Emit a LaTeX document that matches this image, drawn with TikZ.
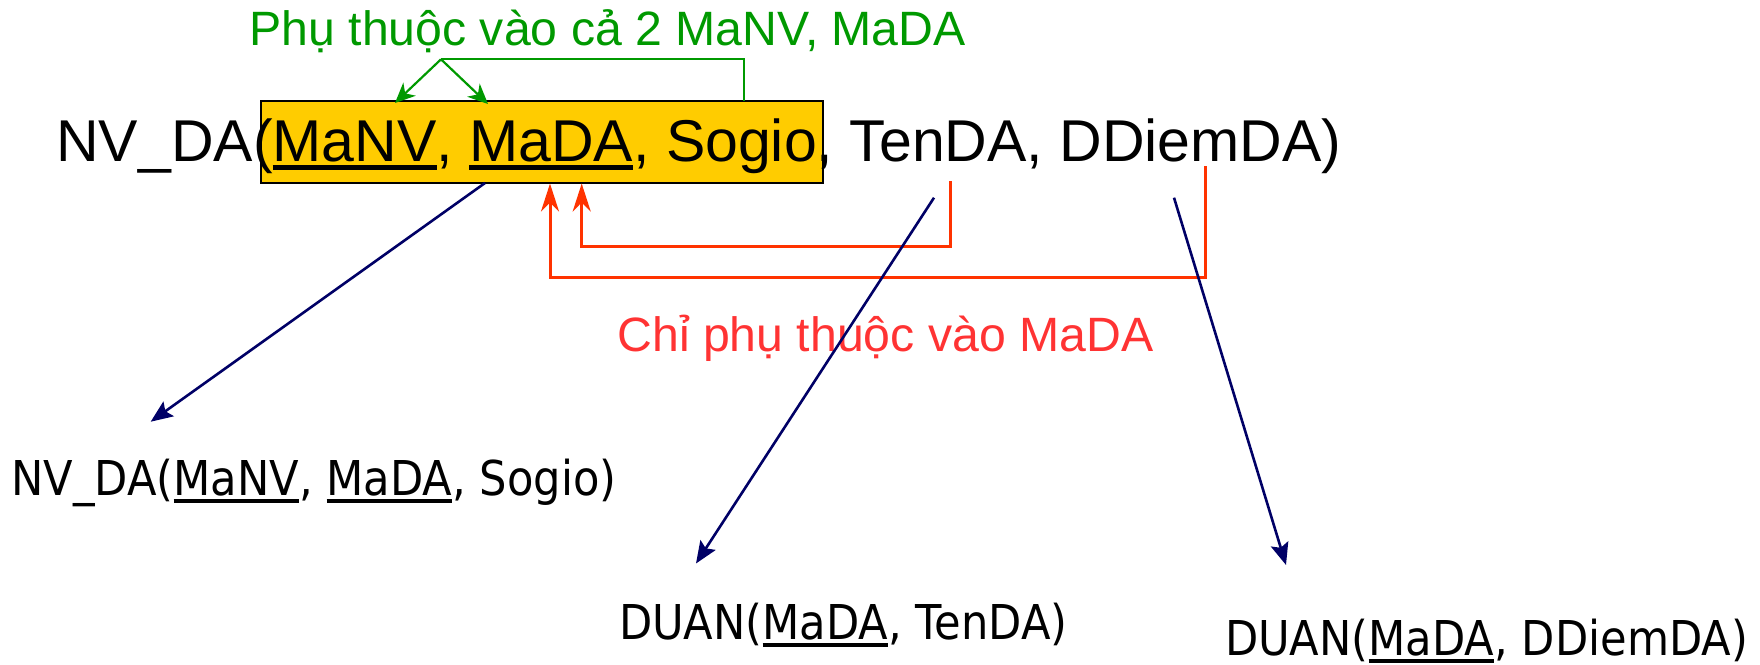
\documentclass[tikz,border=0pt]{standalone}
\usepackage{fontspec}
\setmainfont{Liberation Sans}
\newfontfamily\narrowsans[FakeStretch=0.9]{DejaVu Sans}
\usetikzlibrary{arrows.meta}

\definecolor{keyyellow}{HTML}{FFCC00}
\definecolor{depgreen}{HTML}{009900}
\definecolor{deptext}{HTML}{FF3333}
\definecolor{depred}{HTML}{FF3300}
\definecolor{splitnavy}{HTML}{000066}

% underlined key attribute: #1 = depth of the rule top below baseline, #2 = thickness
\newcommand\keyattr[3]{\setbox0\hbox{#3}\rlap{\rule[-#1]{\wd0}{#2}}\box0}

\tikzset{
  txt/.style={anchor=base west, inner sep=0pt, outer sep=0pt},
  relbig/.style={txt, font=\fontsize{29.5pt}{34pt}\selectfont},
  relsmall/.style={txt, font=\narrowsans\fontsize{24pt}{29pt}\selectfont},
  note/.style={txt, font=\fontsize{24.1pt}{28pt}\selectfont},
  keybox/.style={draw=black, line width=1pt, fill=keyyellow, inner sep=0pt,
                 minimum width=281pt, minimum height=40.85pt},
  gline/.style={draw=depgreen, line width=1.1pt},
  garrow/.style={gline, -{Stealth[length=10pt, width=9pt, inset=3pt]}},
  rline/.style={draw=depred, line width=1.5pt},
  rarrow/.style={rline, -{Stealth[length=14pt, width=9pt, inset=4.5pt]}},
  narrow/.style={draw=splitnavy, line width=1.3pt, -{Stealth[length=11pt, width=9pt, inset=2pt]}}
}

\begin{document}
\begin{tikzpicture}[x=0.5pt, y=-0.5pt]
  \useasboundingbox (0,0) rectangle (1760,664);

  % highlighted key part of the relation
  \node[keybox] (key) at (541.7,141.85) {};

  % relation and decomposed relations
  \node[relbig] (nvda) at (56.3,161)
    {NV\_DA(\keyattr{4.5pt}{2.4pt}{MaNV}, \keyattr{4.5pt}{2.4pt}{MaDA}, Sogio, TenDA, DDiemDA)};
  \node[relsmall] (nvdaR) at (11.2,495)
    {NV\_DA(\keyattr{4pt}{2pt}{MaNV}, \keyattr{4pt}{2pt}{MaDA}, Sogio)};
  \node[relsmall] (duanT) at (619,639)
    {DUAN(\keyattr{4pt}{2pt}{MaDA}, TenDA)};
  \node[relsmall] (duanD) at (1225,655)
    {DUAN(\keyattr{4pt}{2pt}{MaDA}, DDiemDA)};

  % dependency notes
  \node[note, text=depgreen] (full) at (249.5,45) {Phụ thuộc vào cả 2 MaNV, MaDA};
  \node[note, text=deptext] (partial) at (617.5,351) {Chỉ phụ thuộc vào MaDA};

  % full dependency: Sogio -> MaNV, MaDA
  \coordinate (gSogio) at (744.2,101);
  \coordinate (gFork) at (441,59.3);
  \coordinate (gManv) at (395,103);
  \coordinate (gMada) at (488,104);
  \draw[gline] (gSogio) |- (gFork);
  \draw[garrow] (gFork) -- (gManv);
  \draw[garrow] (gFork) -- (gMada);

  % partial dependencies: TenDA, DDiemDA -> MaDA
  \coordinate (rTen) at (950.7,181);
  \coordinate (rTenLow) at (950.7,246);
  \coordinate (rTenTip) at (581.7,183.5);
  \coordinate (rDiem) at (1205.7,166);
  \coordinate (rDiemLow) at (1205.7,277.7);
  \coordinate (rDiemTip) at (550,183.5);
  \draw[rarrow] (rTen) -- (rTenLow) -| (rTenTip);
  \draw[rarrow] (rDiem) -- (rDiemLow) -| (rDiemTip);

  % decomposition arrows
  \coordinate (nA) at (485,183);
  \coordinate (nAend) at (150.7,421.7);
  \coordinate (nB) at (934,197.7);
  \coordinate (nBend) at (696,563.5);
  \coordinate (nC) at (1174,197.7);
  \coordinate (nCend) at (1286,565);
  \draw[narrow] (nA) -- (nAend);
  \draw[narrow] (nB) -- (nBend);
  \draw[narrow] (nC) -- (nCend);
\end{tikzpicture}
\end{document}
